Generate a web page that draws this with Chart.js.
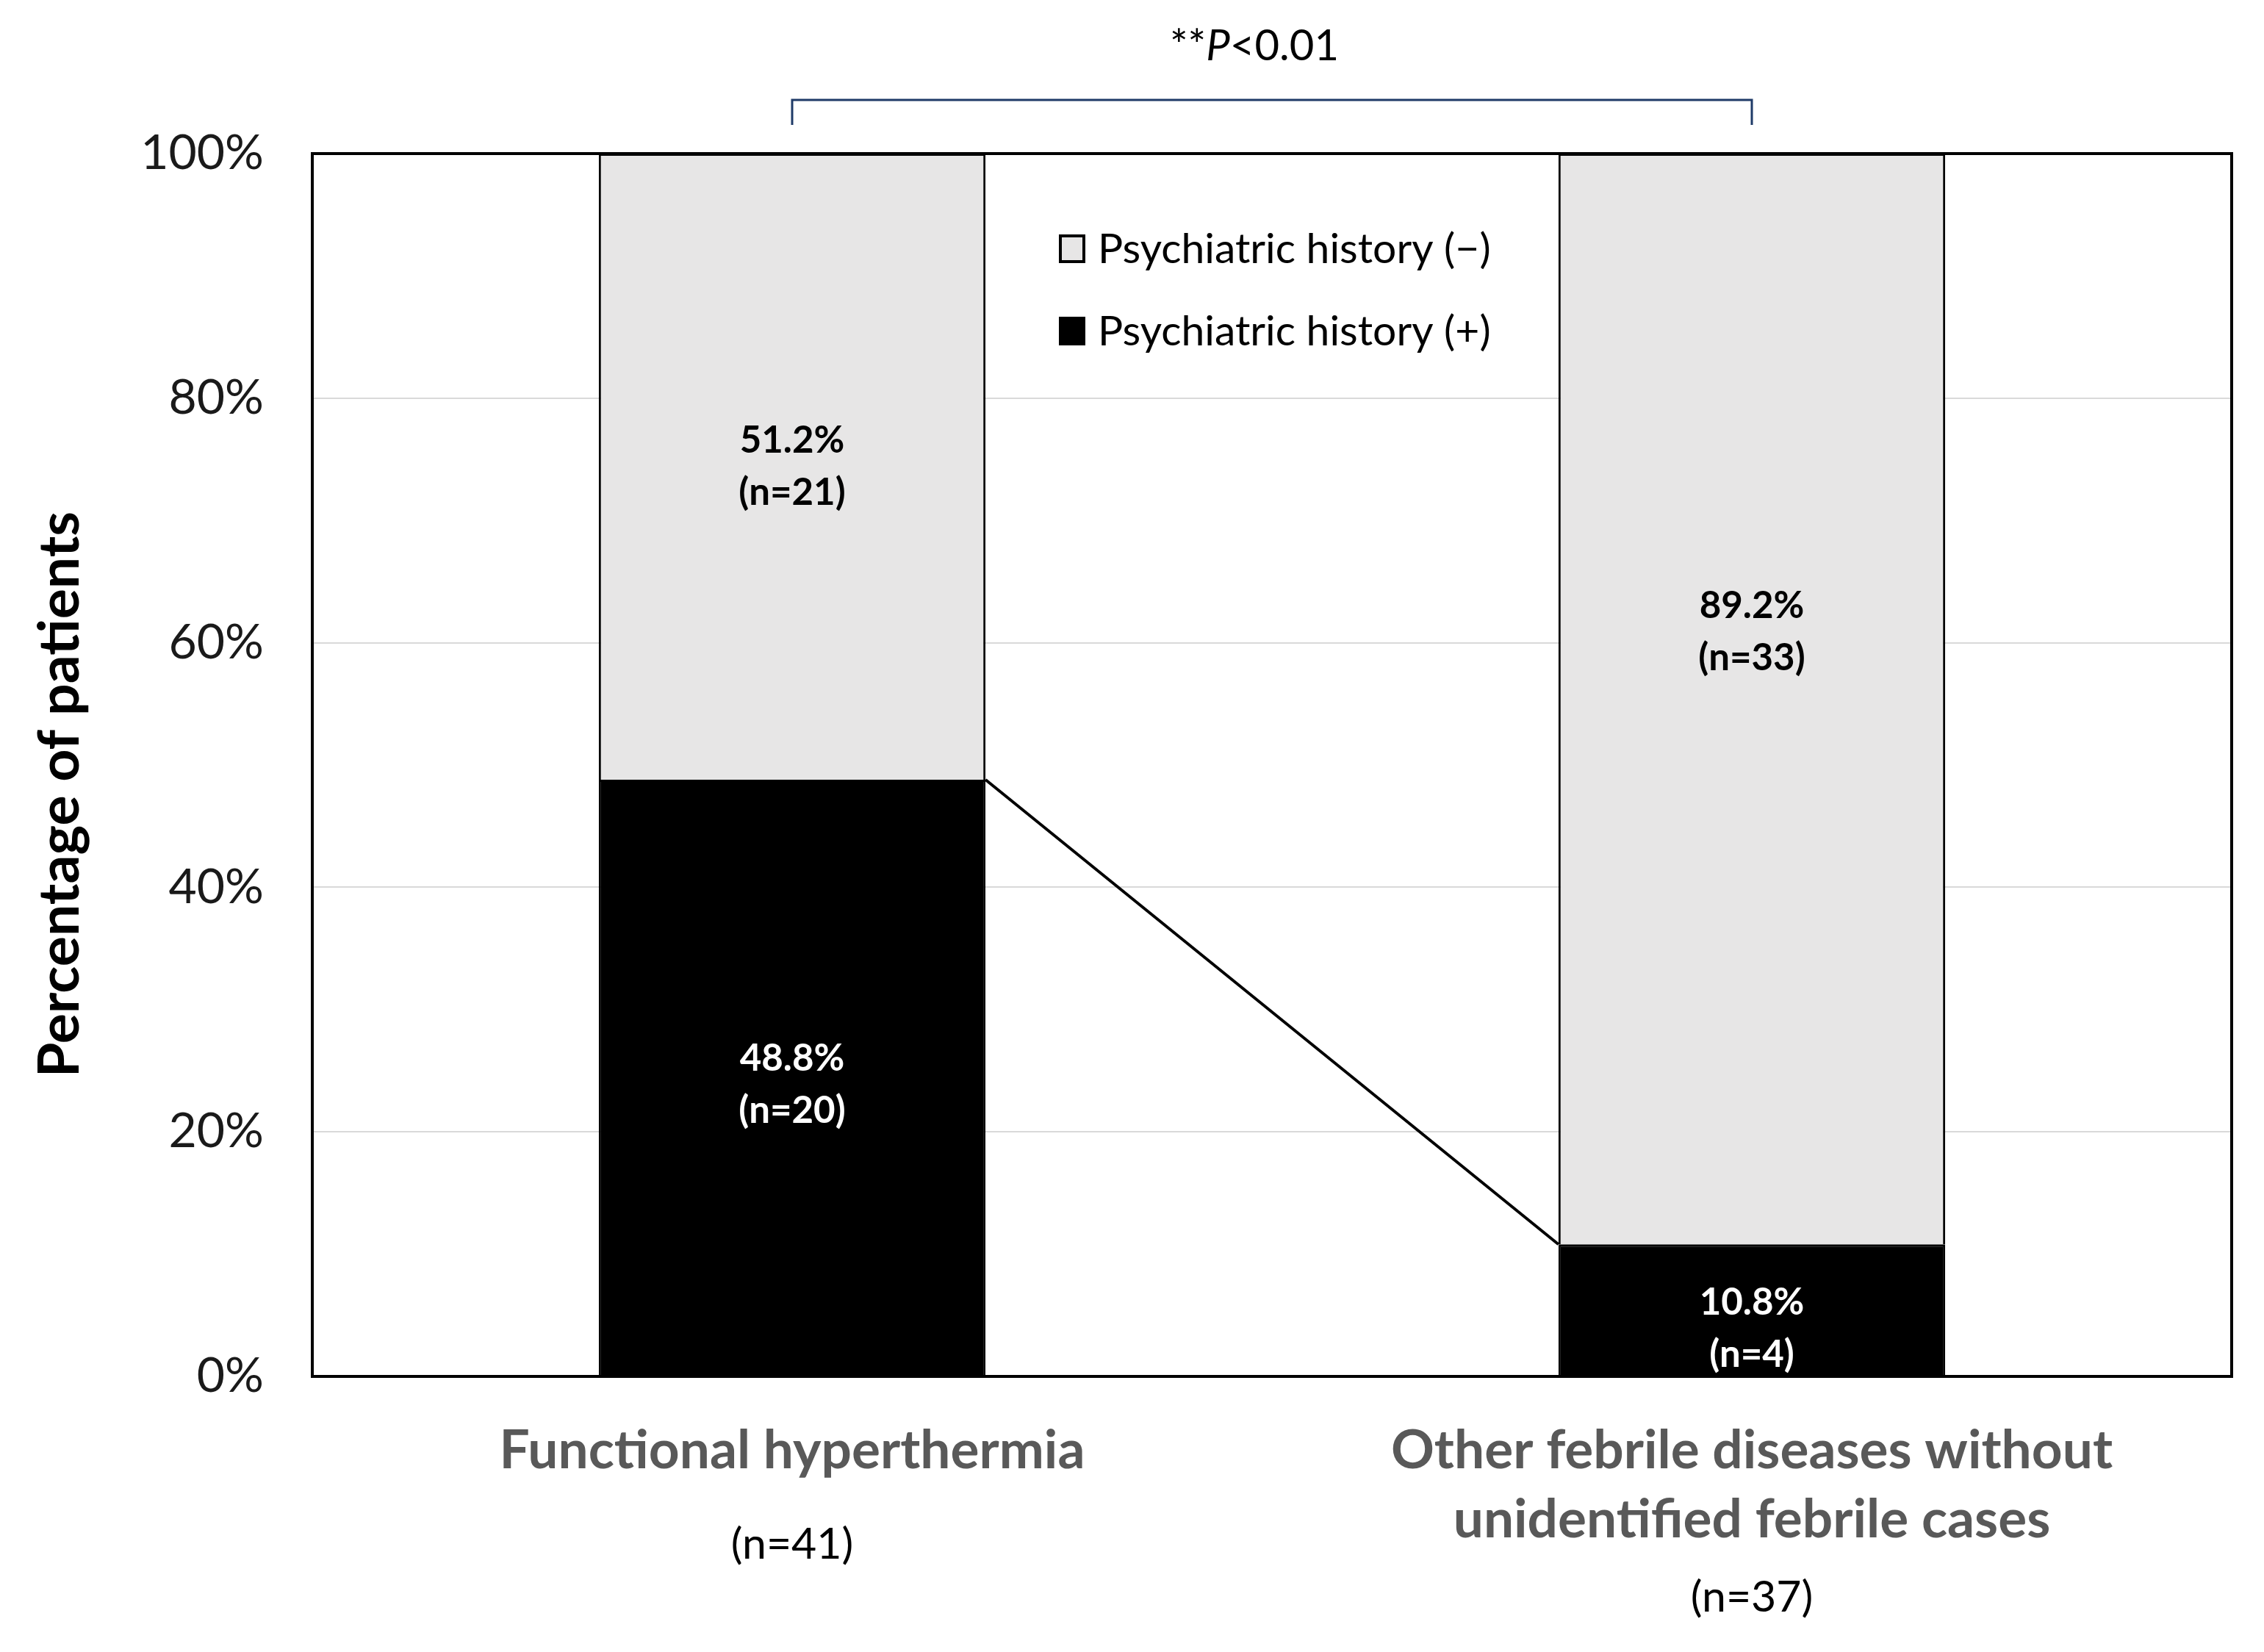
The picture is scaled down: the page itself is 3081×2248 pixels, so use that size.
<!DOCTYPE html>
<html>
<head>
<meta charset="utf-8">
<script src="https://cdn.jsdelivr.net/npm/chart.js@4.4.1/dist/chart.umd.min.js"></script>
<style>
  html, body { margin: 0; padding: 0; background: #ffffff; }
  #wrap { width: 3081px; height: 2248px; }
</style>
</head>
<body>
<div id="wrap"><canvas id="c" width="3081" height="2248"></canvas></div>
<script>
// ---- data ----
const categories = [
  ["Functional hyperthermia"],
  ["Other febrile diseases without", "unidentified febrile cases"]
];
const groupN = [41, 37];
const posLabel = "Psychiatric history (+)";
const negLabel = "Psychiatric history (\u2212)";
const posPct = [48.8, 10.8];
const negPct = [51.2, 89.2];
const posN = [20, 4];
const negN = [21, 33];
const yTickValues = [0, 20, 40, 60, 80, 100];
const yTitle = "Percentage of patients";
const pValueParts = ["**", "P", "<0.01"];

// ---- styles ----
const FONT = "Lato";
const LIGHT = "#e7e6e6";
const labelShift = [[10, 0], [25, -91]]; // [pos, neg] vertical nudges per category (px)
const catLineY = [1974, 2068];
const nLineY = [2102, 2174];

const overlay = {
  id: "overlay",
  afterDatasetsDraw(chart) {
    const ctx = chart.ctx;
    const ca = chart.chartArea;
    const mPos = chart.getDatasetMeta(0);
    const mNeg = chart.getDatasetMeta(1);
    ctx.save();
    // connecting line between tops of the (+) segments
    const b0 = mPos.data[0], b1 = mPos.data[1];
    ctx.strokeStyle = "#000";
    ctx.lineWidth = 4;
    ctx.beginPath();
    ctx.moveTo(b0.x + b0.width / 2, b0.y);
    ctx.lineTo(b1.x - b1.width / 2, b1.y);
    ctx.stroke();
    // plot border
    ctx.lineWidth = 4;
    ctx.strokeRect(ca.left, ca.top, ca.right - ca.left, ca.bottom - ca.top);
    // data labels
    ctx.textAlign = "center";
    ctx.textBaseline = "middle";
    ctx.font = "bold 51px " + FONT;
    const lh = 71;
    for (let i = 0; i < categories.length; i++) {
      const p = mPos.data[i], n = mNeg.data[i];
      const pc = (p.y + p.base) / 2 + labelShift[i][0];
      const nc = (n.y + n.base) / 2 + labelShift[i][1];
      ctx.fillStyle = "#ffffff";
      ctx.fillText(posPct[i].toFixed(1) + "%", p.x, pc - lh / 2);
      ctx.fillText("(n=" + posN[i] + ")", p.x, pc + lh / 2);
      ctx.fillStyle = "#000000";
      ctx.fillText(negPct[i].toFixed(1) + "%", n.x, nc - lh / 2);
      ctx.fillText("(n=" + negN[i] + ")", n.x, nc + lh / 2);
    }
    ctx.restore();
  },
  afterDraw(chart) {
    const ctx = chart.ctx;
    const xs = chart.scales.x;
    const ca = chart.chartArea;
    ctx.save();
    // y-axis title
    ctx.save();
    ctx.translate(82, (ca.top + ca.bottom) / 2 + 40);
    ctx.rotate(-Math.PI / 2);
    ctx.font = "bold 77px " + FONT;
    ctx.fillStyle = "#000";
    ctx.textAlign = "center";
    ctx.textBaseline = "middle";
    ctx.fillText(yTitle, 0, 0);
    ctx.restore();
    // legend inside plot
    const items = [
      { text: negLabel, fill: LIGHT, y: 338 },
      { text: posLabel, fill: "#000000", y: 450 }
    ];
    ctx.font = "57px " + FONT;
    ctx.textAlign = "left";
    ctx.textBaseline = "middle";
    items.forEach(it => {
      ctx.fillStyle = it.fill;
      ctx.fillRect(1443, it.y - 17, 32, 35);
      ctx.strokeStyle = "#000";
      ctx.lineWidth = 4;
      ctx.strokeRect(1443, it.y - 17, 32, 35);
      ctx.fillStyle = "#000";
      ctx.fillText(it.text, 1494, it.y + 2);
    });
    // significance bracket
    const xa = xs.getPixelForValue(0), xb = xs.getPixelForValue(1);
    ctx.strokeStyle = "#1f3b68";
    ctx.lineWidth = 3;
    ctx.beginPath();
    ctx.moveTo(xa, 170);
    ctx.lineTo(xa, 136);
    ctx.lineTo(xb, 136);
    ctx.lineTo(xb, 170);
    ctx.stroke();
    // p-value text
    const fN = "58px " + FONT, fI = "italic 58px " + FONT;
    ctx.font = fN; const w0 = ctx.measureText(pValueParts[0]).width;
    ctx.font = fI; const w1 = ctx.measureText(pValueParts[1]).width;
    ctx.font = fN; const w2 = ctx.measureText(pValueParts[2]).width;
    let px = (xa + xb) / 2 - 24 - (w0 + w1 + w2) / 2;
    ctx.fillStyle = "#000";
    ctx.textBaseline = "middle";
    ctx.font = fN; ctx.fillText(pValueParts[0], px, 63); px += w0;
    ctx.font = fI; ctx.fillText(pValueParts[1], px, 63); px += w1;
    ctx.font = fN; ctx.fillText(pValueParts[2], px, 63);
    // category labels
    ctx.textAlign = "center";
    for (let i = 0; i < categories.length; i++) {
      const cx = xs.getPixelForValue(i);
      ctx.font = "bold 73px " + FONT;
      ctx.fillStyle = "#595959";
      categories[i].forEach((line, k) => ctx.fillText(line, cx, catLineY[k]));
      ctx.font = "59px " + FONT;
      ctx.fillStyle = "#000";
      ctx.fillText("(n=" + groupN[i] + ")", cx, nLineY[i]);
    }
    ctx.restore();
  }
};

function build() {
  new Chart(document.getElementById("c"), {
    type: "bar",
    data: {
      labels: categories.map(c => c.join(" ")),
      datasets: [
        { label: posLabel, data: posPct, backgroundColor: "#000000", borderColor: "#000000", borderWidth: 3 },
        { label: negLabel, data: negPct, backgroundColor: LIGHT, borderColor: "#000000", borderWidth: 3 }
      ]
    },
    options: {
      responsive: false,
      animation: false,
      devicePixelRatio: 1,
      layout: { padding: { top: 209, right: 44, left: 0, bottom: 0 } },
      datasets: { bar: { categoryPercentage: 1.0, barPercentage: 0.403 } },
      plugins: { legend: { display: false }, tooltip: { enabled: false } },
      scales: {
        x: {
          stacked: true,
          grid: { display: false },
          border: { display: false },
          ticks: { display: false },
          afterFit(s) { s.height = 375; }
        },
        y: {
          stacked: true,
          min: 0, max: 100,
          afterBuildTicks(s) { s.ticks = yTickValues.map(v => ({ value: v })); },
          ticks: {
            callback: v => v + "%",
            font: { family: FONT, size: 66 },
            color: "#1a1a1a",
            padding: 66
          },
          grid: { color: "#d9d9d9", lineWidth: 2, drawTicks: false },
          border: { display: false },
          title: { display: false },
          afterFit(s) { s.width = 425; }
        }
      }
    },
    plugins: [overlay]
  });
}

Promise.all([
  document.fonts.load("56px Lato"),
  document.fonts.load("bold 56px Lato"),
  document.fonts.load("italic 56px Lato")
]).then(build, build);
</script>
</body>
</html>
